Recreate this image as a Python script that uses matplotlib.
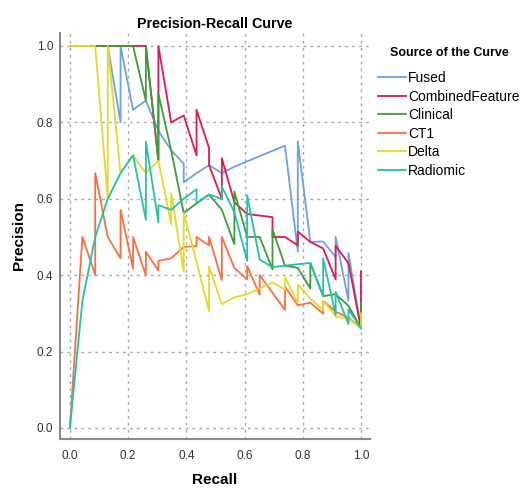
import matplotlib
matplotlib.use("Agg")
import matplotlib.pyplot as plt

plt.rcParams['font.family'] = ['Liberation Sans', 'DejaVu Sans']

# recall / precision readings for each source
fused_r = [0.0, 0.130, 0.174, 0.174, 0.217, 0.261, 0.304, 0.348, 0.391, 0.391, 0.435, 0.478,
           0.522, 0.565, 0.739, 0.783, 0.783, 0.826, 0.870, 0.913, 0.913, 0.957, 0.957, 1.0]
fused_p = [1.0, 1.0, 0.80, 1.0, 0.833, 0.857, 0.778, 0.727, 0.692, 0.643, 0.667, 0.688,
           0.667, 0.684, 0.739, 0.462, 0.75, 0.487, 0.488, 0.447, 0.50, 0.333, 0.458, 0.261]

comb_r = [0.0, 0.261, 0.304, 0.304, 0.348, 0.391, 0.435, 0.435, 0.478, 0.478, 0.522, 0.522,
          0.565, 0.609, 0.652, 0.696, 0.696, 0.739, 0.783, 0.783, 0.826, 0.870, 0.913, 0.913,
          0.957, 1.0, 1.0]
comb_p = [1.0, 1.0, 0.70, 1.0, 0.80, 0.818, 0.714, 0.833, 0.733, 0.688, 0.60, 0.706,
          0.591, 0.56, 0.556, 0.552, 0.50, 0.50, 0.478, 0.514, 0.487, 0.47, 0.389, 0.477,
          0.431, 0.261, 0.41]

clin_r = [0.0, 0.217, 0.261, 0.261, 0.304, 0.304, 0.348, 0.391, 0.435, 0.478, 0.522, 0.565,
          0.565, 0.609, 0.652, 0.696, 0.696, 0.739, 0.783, 0.826, 0.826, 0.870, 0.913, 0.957,
          1.0, 1.0]
clin_p = [1.0, 1.0, 0.857, 1.0, 0.70, 0.875, 0.727, 0.5625, 0.588, 0.611, 0.571, 0.481,
          0.619, 0.50, 0.50, 0.415, 0.52, 0.425, 0.419, 0.365, 0.432, 0.345, 0.35, 0.32,
          0.261, 0.328]

ct1_r = [0.0, 0.043, 0.087, 0.087, 0.130, 0.174, 0.174, 0.217, 0.217, 0.261, 0.261, 0.304,
         0.304, 0.348, 0.391, 0.435, 0.435, 0.478, 0.478, 0.522, 0.522, 0.565, 0.609, 0.609,
         0.652, 0.652, 0.739, 0.739, 0.783, 0.826, 0.870, 0.870, 0.913, 0.957, 1.0]
ct1_p = [0.0, 0.50, 0.40, 0.667, 0.50, 0.444, 0.571, 0.417, 0.50, 0.40, 0.4615, 0.412,
         0.4375, 0.444, 0.474, 0.476, 0.50, 0.478, 0.50, 0.387, 0.50, 0.419, 0.389, 0.424,
         0.349, 0.40, 0.309, 0.37, 0.321, 0.328, 0.299, 0.333, 0.304, 0.289, 0.261]

delta_r = [0.0, 0.087, 0.130, 0.130, 0.174, 0.217, 0.261, 0.304, 0.348, 0.348, 0.391, 0.391,
           0.435, 0.478, 0.478, 0.522, 0.565, 0.609, 0.696, 0.739, 0.739, 0.783, 0.783, 0.826,
           0.870, 0.870, 0.913, 0.957, 1.0, 1.0]
delta_p = [1.0, 1.0, 0.60, 1.0, 0.667, 0.714, 0.667, 0.70, 0.533, 0.615, 0.409, 0.5625,
           0.435, 0.306, 0.423, 0.324, 0.342, 0.35, 0.381, 0.362, 0.395, 0.327, 0.375, 0.339,
           0.308, 0.333, 0.292, 0.286, 0.261, 0.30]

rad_r = [0.0, 0.043, 0.087, 0.130, 0.174, 0.217, 0.261, 0.261, 0.304, 0.304, 0.348, 0.391,
         0.435, 0.435, 0.478, 0.522, 0.522, 0.565, 0.609, 0.609, 0.652, 0.696, 0.739, 0.826,
         0.870, 0.870, 0.913, 0.913, 0.957, 0.957, 1.0]
rad_p = [0.0, 0.333, 0.50, 0.60, 0.667, 0.714, 0.545, 0.75, 0.538, 0.583, 0.571, 0.60,
         0.625, 0.588, 0.611, 0.60, 0.632, 0.565, 0.4375, 0.609, 0.441, 0.421, 0.425, 0.432,
         0.345, 0.444, 0.296, 0.356, 0.272, 0.31, 0.261]

names = ["Fused", "CombinedFeature", "Clinical", "CT1", "Delta", "Radiomic"]
colors = ["#6aa2e8", "#e3184b", "#3f9a3a", "#fb6e3e", "#e6d826", "#22c2a8"]
curves = [(fused_r, fused_p), (comb_r, comb_p), (clin_r, clin_p),
          (ct1_r, ct1_p), (delta_r, delta_p), (rad_r, rad_p)]

fig = plt.figure(figsize=(5.21, 4.88), dpi=100)
ax = fig.add_axes([60/521, 49/488, 310/521, 406/488])

for (r, p), name, col in zip(curves, names, colors):
    ax.plot(r, p, color=col, lw=1.3, label=name)

ax.set_xlim(-0.034, 1.031)
ax.set_ylim(-0.029, 1.034)
ticks = [0.0, 0.2, 0.4, 0.6, 0.8, 1.0]
ax.set_xticks(ticks)
ax.set_yticks(ticks)
ax.set_xticklabels(["0.0", "0.2", "0.4", "0.6", "0.8", "1.0"])
ax.set_yticklabels(["0.0", "0.2", "0.4", "0.6", "0.8", "1.0"])
ax.tick_params(length=0, labelsize=8.5, labelcolor="#333333")
ax.tick_params(axis="x", pad=8)
ax.tick_params(axis="y", pad=5)
ax.grid(True, color="#aaaaaa", lw=1, linestyle=(0, (2, 3)))
ax.set_axisbelow(True)
for s in ["top", "right"]:
    ax.spines[s].set_visible(False)
for s in ["left", "bottom"]:
    ax.spines[s].set_color("#8a8a8a")
    ax.spines[s].set_linewidth(1.5)

ax.set_title("Precision-Recall Curve", fontsize=10.3, fontweight="bold", pad=3.5)
ax.set_xlabel("Recall", fontsize=11, fontweight="bold", labelpad=8)
ax.set_ylabel("Precision", fontsize=11, fontweight="bold", labelpad=7.5)

# legend title placed separately to get the wider gap of the original
fig.text(449/521, 1 - 53/488, "Source of the Curve", ha="center", va="center",
         fontsize=9, fontweight="bold")
leg = ax.legend(loc="upper left", bbox_to_anchor=(378/521, 1 - 71/488),
                bbox_transform=fig.transFigure, frameon=False, fontsize=10,
                handlelength=2.0, handletextpad=0.15, labelspacing=0.33,
                borderaxespad=0, borderpad=0)

fig.savefig("out.png", dpi=100)
